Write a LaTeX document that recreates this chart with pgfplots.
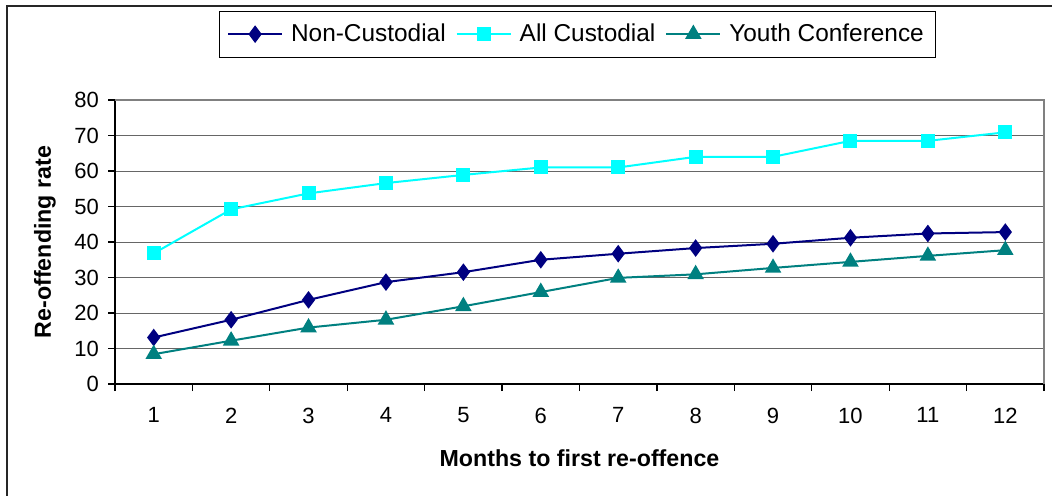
\documentclass[border=0pt]{standalone}
\usepackage{pgfplots}
\pgfplotsset{compat=1.18}
\usepackage{fontspec}
\setmainfont{Liberation Sans}
\definecolor{ncust}{HTML}{000080}
\definecolor{acust}{HTML}{00FFFF}
\definecolor{youth}{HTML}{008080}
\begin{document}
\begin{tikzpicture}
\path[use as bounding box] (0pt,0pt) rectangle (526pt,247.5pt);
\draw[line width=1pt, black!85] (3.5pt,-1pt) -- (3.5pt,244.5pt) -- (527pt,244.5pt);
\begin{axis}[
  at={(57.5pt,55.5pt)}, anchor=south west, scale only axis,
  width=464.5pt, height=142pt,
  xmin=0.5, xmax=12.5, ymin=0, ymax=80,
  axis lines*=left,
  axis line style={line width=0.8pt, black},
  xtick={0.5,1.5,...,12.5},
  xticklabels={},
  extra x ticks={1,2,3,4,5,6,7,8,9,10,11,12},
  extra x tick labels={1,2,3,4,5,6,7,8,9,10,11,12},
  extra x tick style={major tick length=0pt, grid=none},
  ytick={0,10,...,80},
  major tick length=3.5pt,
  tick align=outside,
  tick style={black, line width=0.6pt},
  ymajorgrids,
  grid style={black!60, line width=0.5pt},
  /pgf/number format/assume math mode=true,
  tick label style={font=\fontsize{11}{13}\selectfont},
  xticklabel style={yshift=-8.3pt},
  yticklabel style={xshift=-1pt},
  xlabel={\textbf{Months to first re-offence}},
  ylabel={\textbf{Re-offending rate}},
  label style={font=\fontsize{11.6}{14}\selectfont},
  xlabel style={at={([yshift=-37pt]axis description cs:0.5,0)}, anchor=center},
  ylabel style={at={([xshift=-35pt]axis description cs:0,0.5)}, anchor=center},
  legend columns=3,
  legend cell align=left,
  legend style={at={(0.4978,1.232)}, anchor=center, draw=black, line width=0.5pt,
    font=\fontsize{12.2}{14}\selectfont,
    inner xsep=4pt, inner ysep=4.3pt,
    /tikz/every odd column/.append style={column sep=2pt},
    /tikz/every even column/.append style={column sep=3pt}},
  legend image code/.code={\draw[#1, mark repeat=2, mark phase=2] plot coordinates {(0pt,0pt) (13.5pt,0pt) (27pt,0pt)};},
  clip=false,
]
\addplot[ncust, line width=1pt, mark=diamond*, mark size=3.6pt, mark options={solid, fill=ncust, draw=ncust}]
  coordinates {(1,13.1) (2,18.1) (3,23.7) (4,28.7) (5,31.5) (6,35.0) (7,36.7) (8,38.3) (9,39.5) (10,41.2) (11,42.4) (12,42.8)};
\addlegendentry{Non-Custodial}
\addplot[acust, line width=1pt, mark=square*, mark size=3pt, mark options={solid, fill=acust, draw=acust}]
  coordinates {(1,36.8) (2,49.2) (3,53.7) (4,56.6) (5,58.9) (6,61.0) (7,61.0) (8,64.0) (9,64.0) (10,68.5) (11,68.5) (12,70.9)};
\addlegendentry{All Custodial}
\addplot[youth, line width=1pt, mark=triangle*, mark size=3.8pt, mark options={solid, fill=youth, draw=youth}]
  coordinates {(1,8.4) (2,12.2) (3,15.9) (4,18.1) (5,21.9) (6,25.9) (7,29.9) (8,30.9) (9,32.7) (10,34.4) (11,36.1) (12,37.7)};
\addlegendentry{Youth Conference}
\draw[black!50, line width=0.8pt] (rel axis cs:1,0) -- (rel axis cs:1,1) -- (rel axis cs:0,1);
\end{axis}
\end{tikzpicture}
\end{document}
